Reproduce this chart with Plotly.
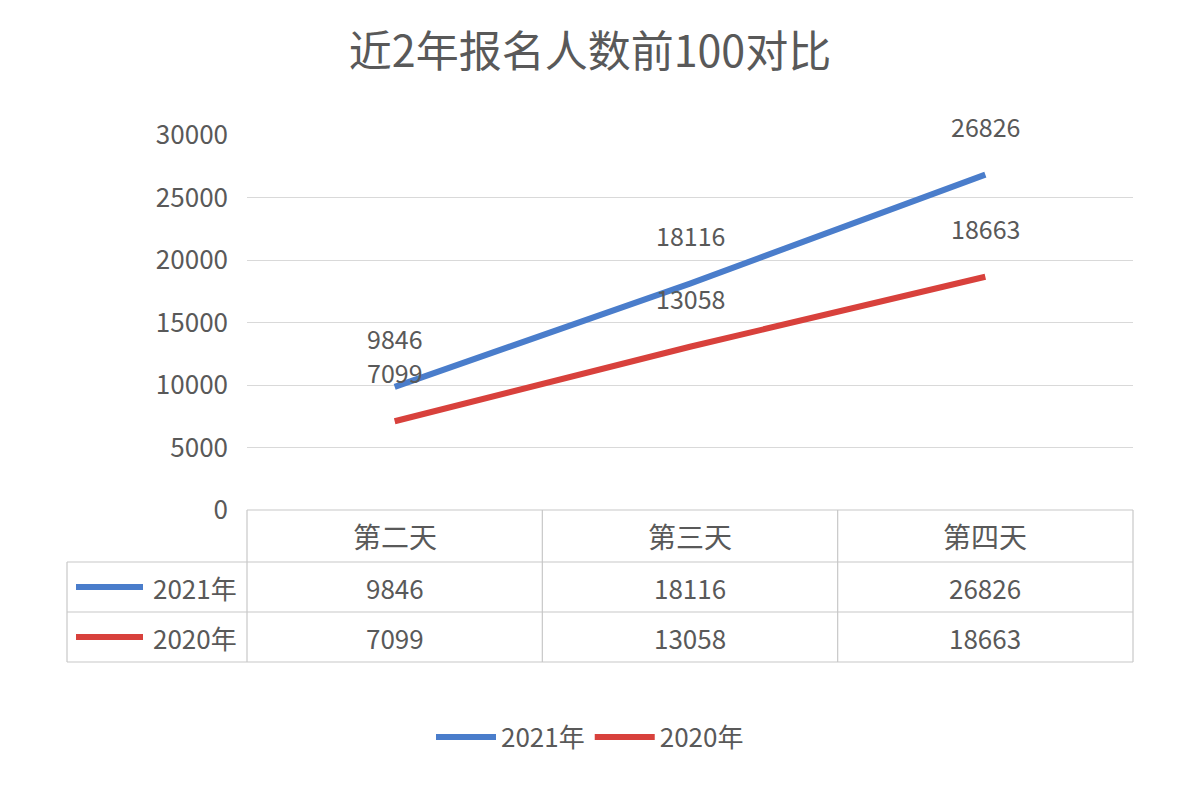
import plotly.graph_objects as go

title = "近2年报名人数前100对比"
categories = ["第二天", "第三天", "第四天"]
series_names = ["2021年", "2020年"]
values_2021 = [9846, 18116, 26826]
values_2020 = [7099, 13058, 18663]
y_ticks = [0, 5000, 10000, 15000, 20000, 25000, 30000]
y_tick_labels = ["0", "5000", "10000", "15000", "20000", "25000", "30000"]

colors = ["#4A7DCB", "#D8413C"]
series_values = [values_2021, values_2020]
txt = "#595959"
font_family = "Noto Sans CJK SC, Noto Sans, sans-serif"

W, H = 1180, 786
def px(x):
    return x / W
def py(y):
    return 1 - y / H

fig = go.Figure()
for name, vals, c in zip(series_names, series_values, colors):
    fig.add_trace(go.Scatter(
        x=categories, y=vals, name=name, mode="lines",
        line=dict(color=c, width=6), hoverinfo="x+y+name"))

annotations = []
# data labels above points
for vals in series_values:
    for cat, v in zip(categories, vals):
        annotations.append(dict(x=cat, y=v, xref="x", yref="y", text=str(v),
                                showarrow=False, yshift=49, borderpad=0,
                                font=dict(size=25, color=txt, family=font_family)))

# data table
plot_l, plot_r = 247, 1133
tbl_l = 67
row_y = [510, 562, 612, 662]
grid_c = "#C8C8C8"
shapes = []
shapes.append(dict(type="line", xref="paper", yref="paper", x0=px(plot_l), x1=px(plot_r),
                   y0=py(row_y[0]), y1=py(row_y[0]), line=dict(color=grid_c, width=1.2)))
for y in row_y[1:]:
    shapes.append(dict(type="line", xref="paper", yref="paper", x0=px(tbl_l), x1=px(plot_r),
                       y0=py(y), y1=py(y), line=dict(color=grid_c, width=1.2)))
shapes.append(dict(type="line", xref="paper", yref="paper", x0=px(tbl_l), x1=px(tbl_l),
                   y0=py(row_y[1]), y1=py(row_y[3]), line=dict(color=grid_c, width=1.2)))
for i in range(len(categories) + 1):
    xp = plot_l + i * (plot_r - plot_l) / len(categories)
    shapes.append(dict(type="line", xref="paper", yref="paper", x0=px(xp), x1=px(xp),
                       y0=py(row_y[0]), y1=py(row_y[3]), line=dict(color=grid_c, width=1.2)))

for cat in categories:
    annotations.append(dict(x=cat, y=py((row_y[0] + row_y[1]) / 2), xref="x", yref="paper",
                            text=cat, showarrow=False, yanchor="middle",
                            font=dict(size=28, color=txt, family=font_family)))
for r, (name, vals, c) in enumerate(zip(series_names, series_values, colors)):
    yc = (row_y[r + 1] + row_y[r + 2]) / 2
    shapes.append(dict(type="line", xref="paper", yref="paper", x0=px(76), x1=px(143),
                       y0=py(yc), y1=py(yc), line=dict(color=c, width=6)))
    annotations.append(dict(x=px(239), y=py(yc), xref="paper", yref="paper", text=name,
                            showarrow=False, xanchor="right", yanchor="middle",
                            font=dict(size=26, color=txt, family=font_family)))
    for cat, v in zip(categories, vals):
        annotations.append(dict(x=cat, y=py(yc), xref="x", yref="paper", text=str(v),
                                showarrow=False, yanchor="middle",
                                font=dict(size=26, color=txt, family=font_family)))

fig.update_layout(
    width=W, height=H,
    margin=dict(l=0, r=0, t=0, b=0, autoexpand=False),
    paper_bgcolor="white", plot_bgcolor="white",
    title=dict(text=title, x=0.5, xanchor="center", y=py(52), yanchor="middle",
               font=dict(size=43, color=txt, family=font_family)),
    xaxis=dict(domain=[px(plot_l), px(plot_r)], range=[-0.5, 2.5], showticklabels=False,
               showgrid=False, zeroline=False, showline=False, ticks=""),
    yaxis=dict(domain=[py(510), py(135)], range=[0, 30000], tickvals=y_ticks,
               ticktext=y_tick_labels,
               tickfont=dict(size=26, color=txt, family=font_family),
               showgrid=True, gridcolor="#D9D9D9", gridwidth=1.2, zeroline=False,
               showline=False, ticks="", ticklabelstandoff=18),
    legend=dict(orientation="h", x=0.5, xanchor="center", y=py(737), yanchor="middle",
                font=dict(size=26, color=txt, family=font_family), itemwidth=60,
                bgcolor="rgba(0,0,0,0)"),
    shapes=shapes, annotations=annotations,
)

fig.write_html("out.html")
